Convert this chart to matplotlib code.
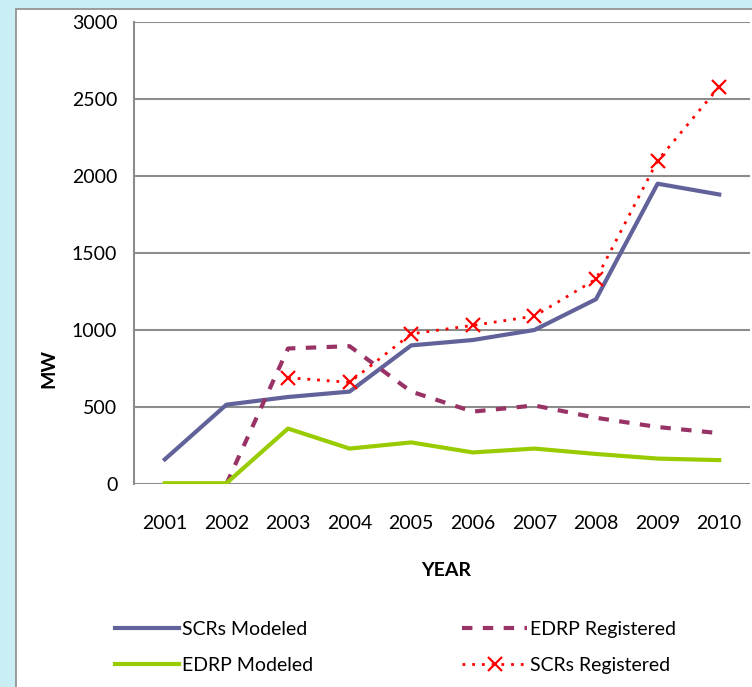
import matplotlib
matplotlib.use("Agg")
import matplotlib.pyplot as plt
from matplotlib.patches import Rectangle
import numpy as np

years = ["2001", "2002", "2003", "2004", "2005", "2006", "2007", "2008", "2009", "2010"]
scr_modeled = [160, 515, 565, 600, 900, 935, 1000, 1200, 1950, 1880]
edrp_modeled = [5, 5, 360, 230, 270, 205, 230, 195, 165, 155]
edrp_registered = [np.nan, 0, 880, 895, 600, 470, 510, 430, 370, 330]
scr_registered = [np.nan, np.nan, 690, 660, 975, 1030, 1090, 1330, 2100, 2580]

plt.rcParams['font.family'] = ['Lato', 'DejaVu Sans']

fig = plt.figure(figsize=(7.52, 6.87), dpi=100)
fig.patch.set_facecolor("#c9eef4")

# white panel with a grey frame, behind everything
bg = fig.add_axes([0, 0, 1, 1], zorder=-1)
bg.axis("off")
bg.set_xlim(0, 752)
bg.set_ylim(687, 0)
bg.add_patch(Rectangle((16, 9), 760, 700, facecolor="white", edgecolor="#8c8c8c", lw=1.2))

ax = fig.add_axes([134 / 752, 1 - 484 / 687, 616 / 752, 462 / 687], zorder=1)
ax.set_facecolor("none")
x = np.arange(len(years))

ax.plot(x, scr_modeled, color="#62629a", lw=3, label="SCRs Modeled", zorder=3)
ax.plot(x, edrp_registered, color="#993366", lw=3, ls=(0, (2.5, 2.5)), label="EDRP Registered", zorder=3)
ax.plot(x, edrp_modeled, color="#99cc00", lw=3, label="EDRP Modeled", zorder=4)
ax.plot(x, scr_registered, color="#ff0000", lw=2, ls=(0, (1, 2.5)), marker="x", ms=10, mew=1.6,
        label="SCRs Registered", zorder=5)

ax.set_xlim(-0.5, 9.5)
ax.set_ylim(0, 3000)
ax.set_yticks(range(0, 3001, 500))
ax.set_xticks(x)
ax.set_xticklabels(years)
ax.yaxis.grid(True, color="#8c8c8c", lw=1.5)
ax.set_axisbelow(True)
for s in ["top", "right", "bottom"]:
    ax.spines[s].set_visible(False)
ax.spines["left"].set_color("#8c8c8c")
ax.spines["left"].set_linewidth(1.5)
ax.tick_params(length=0, labelsize=14)
ax.tick_params(axis="y", pad=12)
ax.tick_params(axis="x", pad=22)

ax.set_ylabel("MW", fontsize=14, fontweight="bold")
ax.yaxis.set_label_coords(-77 / 616, 0.249)
ax.set_xlabel("YEAR", fontsize=14, fontweight="bold")
ax.xaxis.set_label_coords(0.506, -78 / 462)

handles, labels = ax.get_legend_handles_labels()
order = [0, 2, 1, 3]
fig.legend([handles[i] for i in order], [labels[i] for i in order],
           loc="center left", bbox_to_anchor=(97 / 752, 1 - 647.5 / 687), ncol=2, frameon=False,
           fontsize=14, handlelength=3.3, handletextpad=0.15, columnspacing=7.7,
           labelspacing=0.95)

fig.savefig("out.png", dpi=100, facecolor=fig.get_facecolor())
